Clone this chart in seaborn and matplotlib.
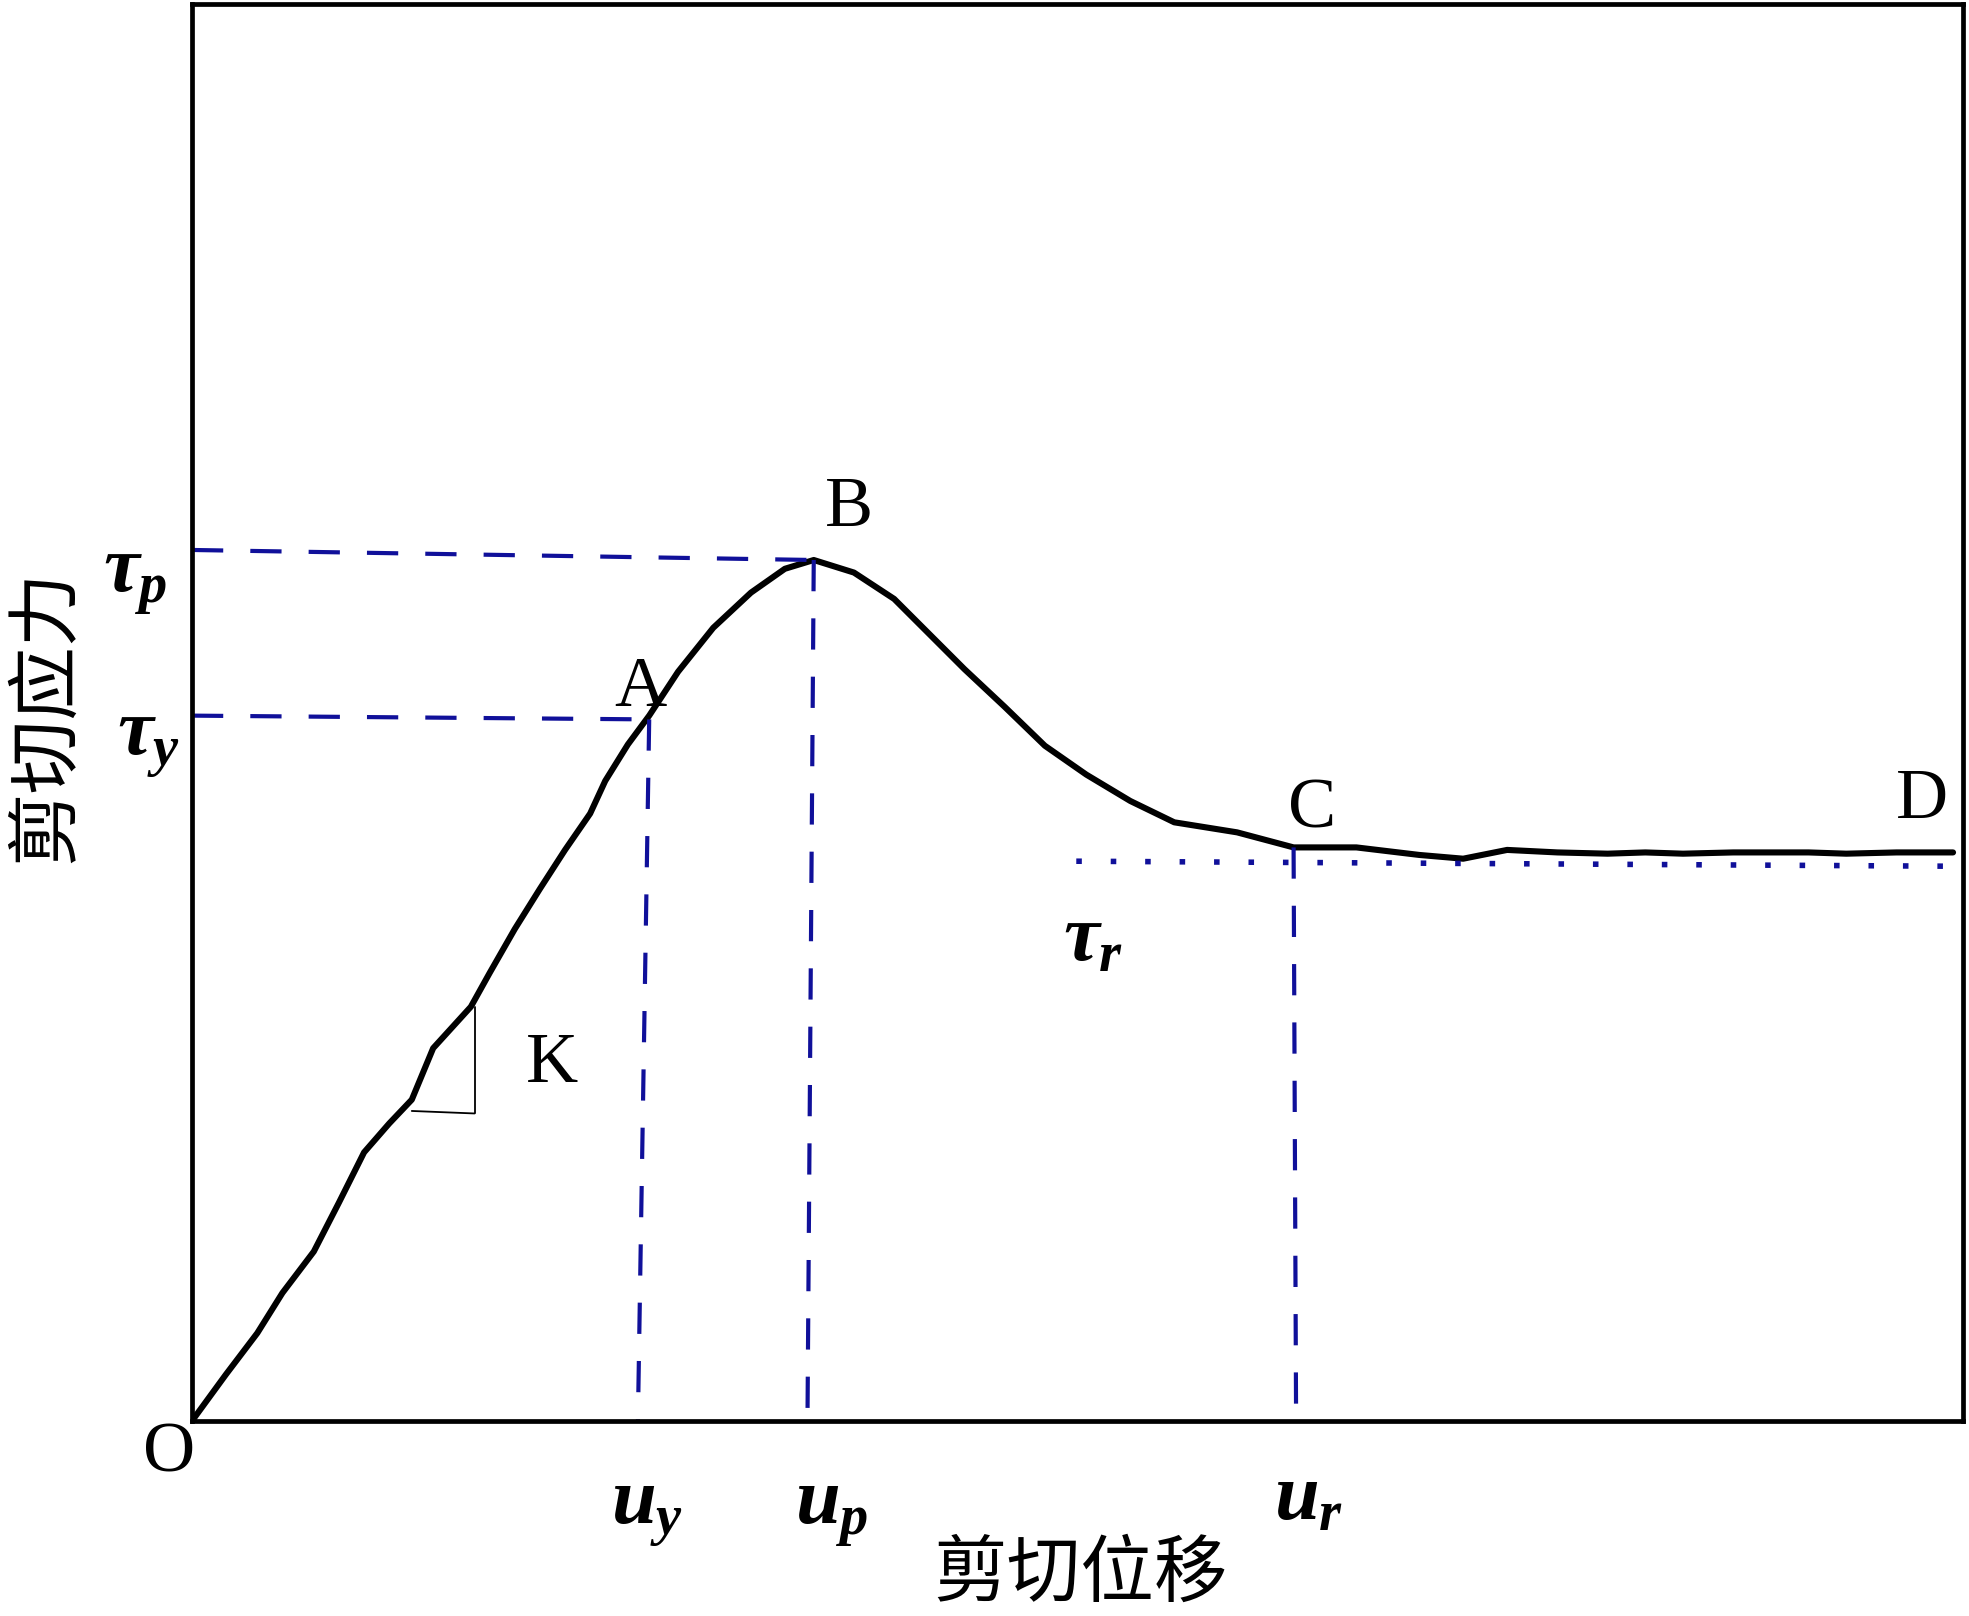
import matplotlib
matplotlib.use("Agg")
import matplotlib.pyplot as plt
import seaborn as sns
import pandas as pd

# ---- data (shear displacement vs shear stress, arbitrary units) ----
disp = [0.00, 0.27, 0.52, 0.72, 0.97, 1.17, 1.37, 1.57, 1.75, 1.92, 2.22, 2.37,
        2.57, 2.77, 2.97, 3.17, 3.29, 3.47, 3.64, 3.87, 4.15, 4.45, 4.72, 4.95,
        5.27, 5.59, 5.87, 6.15, 6.47, 6.79, 7.12, 7.47, 7.82, 8.32, 8.77, 9.27,
        9.77, 10.12, 10.47, 10.87, 11.27, 11.57, 11.87, 12.27, 12.87, 13.17, 13.57, 14.02]
stress = [0.00, 0.37, 0.70, 1.02, 1.35, 1.74, 2.14, 2.37, 2.56, 2.97, 3.30, 3.57,
          3.92, 4.24, 4.55, 4.84, 5.10, 5.39, 5.62, 5.97, 6.32, 6.60, 6.79, 6.86,
          6.76, 6.55, 6.27, 5.99, 5.69, 5.38, 5.15, 4.94, 4.77, 4.69, 4.57, 4.57,
          4.51, 4.48, 4.55, 4.53, 4.52, 4.53, 4.52, 4.53, 4.53, 4.52, 4.53, 4.53]

# characteristic points
u_y, tau_y = 3.64, 5.60
u_p, tau_p = 4.95, 6.86
u_r, tau_r = 8.77, 4.57
tau_res = 4.44
x_max, y_max = 14.10, 11.29

point_labels = ["O", "A", "B", "C", "D", "K"]
xlabel = "剪切位移"
ylabel = "剪切应力"

df = pd.DataFrame({"disp": disp, "stress": stress})

sns.set_theme(style="white")
plt.rcParams["font.family"] = ["Liberation Serif", "DejaVu Sans"]
plt.rcParams["text.color"] = "black"
plt.rcParams["mathtext.fontset"] = "custom"
plt.rcParams["mathtext.it"] = "Liberation Serif:italic:bold"
plt.rcParams["mathtext.rm"] = "Liberation Serif:bold"
plt.rcParams["mathtext.bf"] = "Liberation Serif:italic:bold"

fig = plt.figure(figsize=(19.69, 16.16), dpi=100)
ax = fig.add_axes([0.0975, 0.1207, 0.8995, 0.8768])

blue = "#10109a"

sns.lineplot(data=df, x="disp", y="stress", sort=False, estimator=None,
             color="black", linewidth=4.4, ax=ax)

dash = (0, (7.5, 6.5))
dlw = 3.0
# tau_p horizontal and u_p vertical
ax.plot([0, u_p], [6.94, tau_p], color=blue, lw=dlw, linestyle=dash)
ax.plot([u_p, 4.90], [tau_p, 0.0], color=blue, lw=dlw, linestyle=dash)
# tau_y horizontal and u_y vertical
ax.plot([0, u_y], [5.62, 5.59], color=blue, lw=dlw, linestyle=dash)
ax.plot([u_y, 3.55], [5.59, 0.0], color=blue, lw=dlw, linestyle=dash)
# u_r vertical
ax.plot([u_r, 8.79], [tau_r, 0.0], color=blue, lw=dlw, linestyle=dash)
# residual dotted line
ax.plot([7.04, 14.02], [4.46, 4.42], color=blue, lw=4.0,
        linestyle=(0, (1, 5.2)), dash_capstyle="butt")

# K slope triangle
ax.plot([1.75, 2.25], [2.47, 2.45], color="black", lw=1.3)
ax.plot([2.25, 2.25], [3.30, 2.45], color="black", lw=1.3)

ax.set_xlim(0, x_max)
ax.set_ylim(0, y_max)
ax.set_xticks([])
ax.set_yticks([])
ax.set_xlabel("")
ax.set_ylabel("")
for s in ax.spines.values():
    s.set_visible(True)
    s.set_color("black")
    s.set_linewidth(3.4)

fs = 52
kw = dict(ha="center", va="center", fontsize=fs, color="black")
ax.text(-0.18, -0.26, point_labels[0], **kw)
ax.text(3.57, 5.84, point_labels[1], **kw)
ax.text(5.23, 7.27, point_labels[2], **kw)
ax.text(8.92, 4.87, point_labels[3], **kw)
ax.text(13.77, 4.94, point_labels[4], **kw)
ax.text(2.87, 2.84, point_labels[5], **kw)

mfs = 58
mk = dict(ha="center", va="center", fontsize=mfs, color="black")
ax.text(-0.45, 6.70, r"$\tau_p$", **mk)
ax.text(-0.35, 5.40, r"$\tau_y$", **mk)
ax.text(7.17, 3.82, r"$\tau_r$", **mk)
ax.text(3.62, -0.73, r"$u_y$", **mk)
ax.text(5.09, -0.73, r"$u_p$", **mk)
ax.text(8.89, -0.63, r"$u_r$", **mk)

cjk = ["Noto Sans CJK SC", "DejaVu Sans"]
ax.text(7.07, -1.23, xlabel, ha="center", va="center", fontsize=53,
        family=cjk, color="black")
ax.text(-1.16, 5.62, ylabel, ha="center", va="center", fontsize=53, rotation=90,
        family=cjk, color="black")

fig.savefig("out.png", dpi=100, facecolor="white")
